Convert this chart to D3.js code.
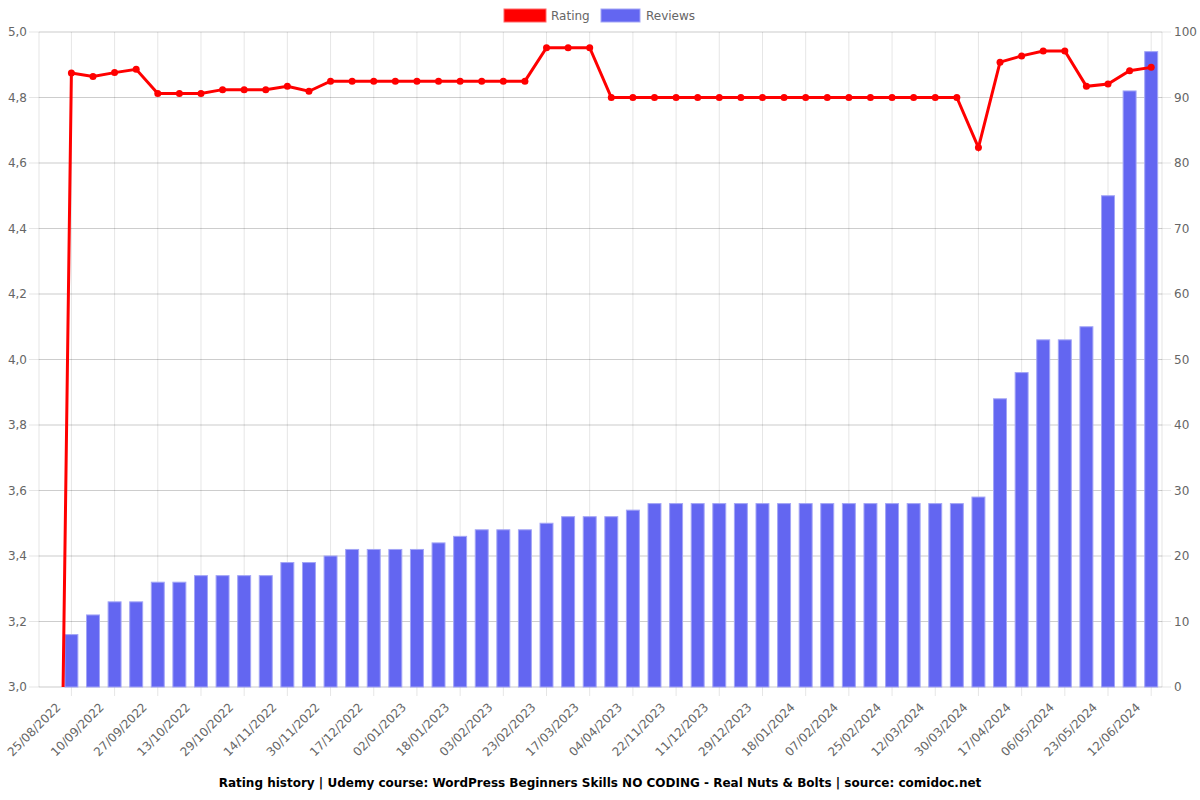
<!DOCTYPE html>
<html>
<head>
<meta charset="utf-8">
<script src="https://cdn.jsdelivr.net/npm/d3@7"></script>
<style>
  body { margin: 0; background: #fff; }
  text { font-family: "DejaVu Sans", sans-serif; }
</style>
</head>
<body>
<svg id="chart" width="1200" height="800"></svg>
<script>
//labels shown under every second point (odd indices)
let tickLabels = ["25/08/2022", "10/09/2022", "27/09/2022", "13/10/2022", "29/10/2022", "14/11/2022",
  "30/11/2022", "17/12/2022", "02/01/2023", "18/01/2023", "03/02/2023", "23/02/2023", "17/03/2023",
  "04/04/2023", "22/11/2023", "11/12/2023", "29/12/2023", "18/01/2024", "07/02/2024", "25/02/2024",
  "12/03/2024", "30/03/2024", "17/04/2024", "06/05/2024", "23/05/2024", "12/06/2024"];
//rating per point (first point sits at 0, below the visible range)
let ratings = [0, 4.875, 4.864, 4.876, 4.886, 4.812, 4.812, 4.812, 4.824, 4.824, 4.824, 4.834, 4.819,
  4.85, 4.85, 4.85, 4.85, 4.85, 4.85, 4.85, 4.85, 4.85, 4.85,
  4.952, 4.952, 4.952,
  4.8, 4.8, 4.8, 4.8, 4.8, 4.8, 4.8, 4.8, 4.8, 4.8, 4.8, 4.8, 4.8, 4.8, 4.8, 4.8, 4.8,
  4.647, 4.908, 4.927, 4.942, 4.942, 4.834, 4.841, 4.882, 4.892];
//review count per point
let reviews = [0, 8, 11, 13, 13, 16, 16, 17, 17, 17, 17, 19, 19, 20, 21, 21, 21, 21, 22, 23, 24, 24, 24,
  25, 26, 26, 26, 27, 28, 28, 28, 28, 28, 28, 28, 28, 28, 28, 28, 28, 28, 28, 28,
  29, 44, 48, 53, 53, 55, 75, 91, 97];
let ratingTicks = [3.0, 3.2, 3.4, 3.6, 3.8, 4.0, 4.2, 4.4, 4.6, 4.8, 5.0];
let reviewTicks = [0, 10, 20, 30, 40, 50, 60, 70, 80, 90, 100];

let title = "Rating history | Udemy course: WordPress Beginners Skills NO CODING - Real Nuts & Bolts | source: comidoc.net";

//plot area
let margin = { top: 32, right: 38, bottom: 113, left: 39 };
let svg = d3.select("#chart");
let width = 1200 - margin.left - margin.right;
let height = 800 - margin.top - margin.bottom;

let idx = d3.range(ratings.length);
let x = d3.scaleBand().domain(idx).range([0, width]);
let yL = d3.scaleLinear().domain([3, 5]).range([height, 0]);
let yR = d3.scaleLinear().domain([0, 100]).range([height, 0]);
let cx = function (i) { return x(i) + x.bandwidth() / 2; };
let tickIdx = tickLabels.map(function (d, k) { return 1 + 2 * k; });

let g = svg.append("g").attr("transform", "translate(" + margin.left + "," + margin.top + ")");

svg.append("defs").append("clipPath").attr("id", "plot")
  .append("rect").attr("width", width).attr("height", height);

let gridColor = "rgba(0,0,0,0.1)";

//vertical grid + bottom tick marks
g.selectAll(".vgrid").data(tickIdx).enter().append("line")
  .attr("x1", cx).attr("x2", cx).attr("y1", 0).attr("y2", height + 9)
  .attr("stroke", gridColor);
//horizontal grid, drawn by both y axes like the original
g.selectAll(".hgridL").data(ratingTicks).enter().append("line")
  .attr("x1", -10).attr("x2", width).attr("y1", yL).attr("y2", yL)
  .attr("stroke", gridColor);
g.selectAll(".hgridR").data(reviewTicks).enter().append("line")
  .attr("x1", 0).attr("x2", width + 9).attr("y1", yR).attr("y2", yR)
  .attr("stroke", gridColor);
//plot borders
g.append("line").attr("x1", 0).attr("x2", 0).attr("y1", 0).attr("y2", height).attr("stroke", gridColor);
g.append("line").attr("x1", width).attr("x2", width).attr("y1", 0).attr("y2", height).attr("stroke", gridColor);

//axes (labels only, lines are drawn above)
let axL = g.append("g").call(d3.axisLeft(yL).tickValues(ratingTicks).tickSize(0).tickPadding(12)
  .tickFormat(function (d) { return d3.format(".1f")(d).replace(".", ","); }));
let axR = g.append("g").attr("transform", "translate(" + width + ",0)")
  .call(d3.axisRight(yR).tickValues(reviewTicks).tickSize(0).tickPadding(12));
let axB = g.append("g").attr("transform", "translate(0," + height + ")")
  .call(d3.axisBottom(x).tickValues(tickIdx).tickSize(0)
    .tickFormat(function (i) { return tickLabels[(i - 1) / 2]; }));
[axL, axR, axB].forEach(function (a) {
  a.select(".domain").remove();
  a.selectAll("text").attr("fill", "#666").style("font-size", "12px").style("font-family", "DejaVu Sans, sans-serif");
});
axB.selectAll("text")
  .attr("x", 0).attr("y", 0).attr("dy", "0.35em")
  .attr("text-anchor", "end")
  .attr("transform", "translate(-13,18) rotate(-45)");

//bars
let barW = x.bandwidth() * 0.6;
g.selectAll(".bar").data(idx.filter(function (i) { return reviews[i] > 0; })).enter().append("rect")
  .attr("class", "bar")
  .attr("x", function (i) { return cx(i) - barW / 2; })
  .attr("y", function (i) { return yR(reviews[i]); })
  .attr("width", barW)
  .attr("height", function (i) { return height - yR(reviews[i]); })
  .attr("fill", "#6366f1")
  .attr("stroke", "#a3a5f6")
  .attr("stroke-width", 1);

//rating line
let line = d3.line().x(cx).y(function (i) { return yL(ratings[i]); });
let lg = g.append("g").attr("clip-path", "url(#plot)");
lg.append("path").datum(idx).attr("d", line)
  .attr("fill", "none").attr("stroke", "#ff0000").attr("stroke-width", 3);
lg.selectAll(".dot").data(idx).enter().append("circle")
  .attr("cx", cx).attr("cy", function (i) { return yL(ratings[i]); })
  .attr("r", 3.5).attr("fill", "#ff0000");

//legend
let legend = svg.append("g");
legend.append("rect").attr("x", 504).attr("y", 9).attr("width", 42).attr("height", 13)
  .attr("fill", "#ff0000").attr("stroke", "#ff6666").attr("stroke-width", 1);
legend.append("text").attr("x", 551).attr("y", 16).attr("dy", "0.35em")
  .attr("fill", "#666").style("font-size", "12px").text("Rating");
legend.append("rect").attr("x", 601).attr("y", 9).attr("width", 39).attr("height", 13)
  .attr("fill", "#6366f1").attr("stroke", "#a3a5f6").attr("stroke-width", 1);
legend.append("text").attr("x", 646).attr("y", 16).attr("dy", "0.35em")
  .attr("fill", "#666").style("font-size", "12px").text("Reviews");

//title
svg.append("text").attr("x", 600).attr("y", 783).attr("dy", "0.35em")
  .attr("text-anchor", "middle").attr("fill", "#000")
  .style("font-size", "12px").style("font-weight", "bold").text(title);
</script>
</body>
</html>
